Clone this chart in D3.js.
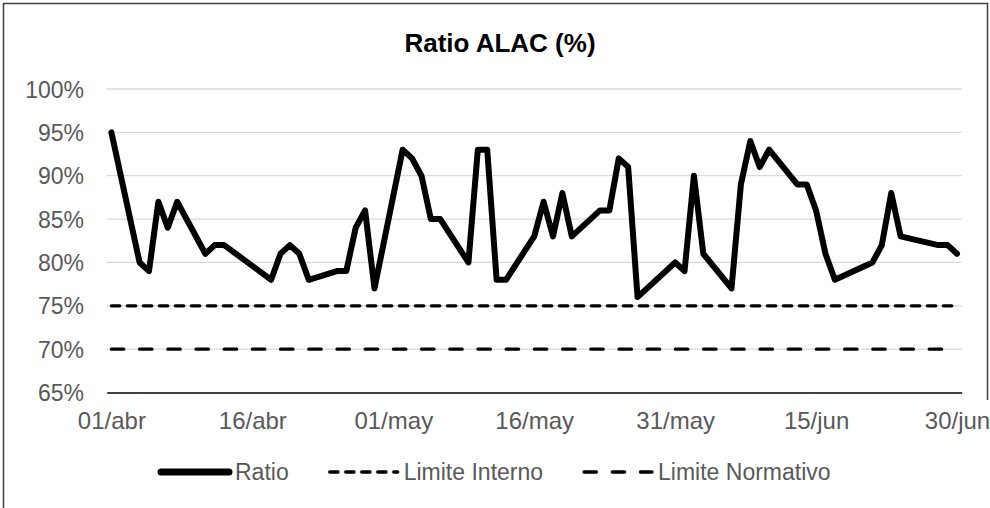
<!DOCTYPE html>
<html>
<head>
<meta charset="utf-8">
<script src="https://cdn.jsdelivr.net/npm/d3@7"></script>
<style>
  body { margin: 0; background: #fff; }
  text { font-family: "Liberation Sans", Arial, sans-serif; }
</style>
</head>
<body>
<script>
// business days Apr-Jun 2022
var dates = [
  "2022-04-01","2022-04-04","2022-04-05","2022-04-06","2022-04-07","2022-04-08",
  "2022-04-11","2022-04-12","2022-04-13","2022-04-18","2022-04-19","2022-04-20",
  "2022-04-21","2022-04-22","2022-04-25","2022-04-26","2022-04-27","2022-04-28",
  "2022-04-29",
  "2022-05-02","2022-05-03","2022-05-04","2022-05-05","2022-05-06","2022-05-09",
  "2022-05-10","2022-05-11","2022-05-12","2022-05-13","2022-05-16","2022-05-17",
  "2022-05-18","2022-05-19","2022-05-20","2022-05-23","2022-05-24","2022-05-25",
  "2022-05-26","2022-05-27","2022-05-31",
  "2022-06-01","2022-06-02","2022-06-03","2022-06-06","2022-06-07","2022-06-08",
  "2022-06-09","2022-06-10","2022-06-13","2022-06-14","2022-06-15","2022-06-16",
  "2022-06-17","2022-06-21","2022-06-22","2022-06-23","2022-06-24","2022-06-28",
  "2022-06-29","2022-06-30"
];
var ratio = [
  95, 80, 79, 87, 84, 87, 81, 82, 82, 78, 81, 82, 81, 78, 79, 79, 84, 86, 77,
  93, 92, 90, 85, 85, 80, 93, 93, 78, 78, 83, 87, 83, 88, 83, 86, 86, 92, 91, 76, 80,
  79, 90, 81, 77, 89, 94, 91, 93, 89, 89, 86, 81, 78, 80, 82, 88, 83, 82, 82, 81
];
var limiteInterno = 75;
var limiteNormativo = 70;
var xTicks = ["2022-04-01","2022-04-16","2022-05-01","2022-05-16","2022-05-31","2022-06-15","2022-06-30"];
var yTicks = [65, 70, 75, 80, 85, 90, 95, 100];
var seriesNames = ["Ratio", "Limite Interno", "Limite Normativo"];

var W = 990, H = 508;
var parse = d3.utcParse("%Y-%m-%d");
var meses = ["ene","feb","mar","abr","may","jun","jul","ago","sep","oct","nov","dic"];
var fmtDate = function(d) { return d3.utcFormat("%d")(d) + "/" + meses[d.getUTCMonth()]; };

var pts = dates.map(function(d, i) { return {date: parse(d), v: ratio[i]}; });
var first = pts[0].date, last = pts[pts.length - 1].date;
var half = 12 * 3600 * 1000;

var x = d3.scaleUtc()
  .domain([new Date(+first - half), new Date(+last + half)])
  .range([106.7, 961.7]);
var y = d3.scaleLinear().domain([65, 100]).range([392.5, 89]);

var svg = d3.select("body").append("svg")
  .attr("width", W).attr("height", H);

svg.append("rect").attr("width", W).attr("height", H).attr("fill", "#fff");

// chart border (right side only visible at the top in the original)
svg.append("path")
  .attr("d", "M3.5," + H + "V3.5H987.5V400")
  .attr("fill", "none").attr("stroke", "#404040").attr("stroke-width", 1.5);

// title
svg.append("text")
  .attr("x", 500).attr("y", 52)
  .attr("text-anchor", "middle")
  .style("font-size", "26px").style("font-weight", "bold").style("fill", "#000")
  .text("Ratio ALAC (%)");

// gridlines
svg.append("g").selectAll("line")
  .data(yTicks.filter(function(t) { return t > 65; }))
  .enter().append("line")
    .attr("x1", 106.7).attr("x2", 961.7)
    .attr("y1", function(d) { return y(d); }).attr("y2", function(d) { return y(d); })
    .attr("stroke", "#d9d9d9").attr("stroke-width", 1.3);

// y axis labels
var yAxis = svg.append("g")
  .attr("transform", "translate(92,0)")
  .call(d3.axisLeft(y).tickValues(yTicks).tickSize(0).tickPadding(0)
    .tickFormat(function(d) { return d + "%"; }));
yAxis.select(".domain").remove();
yAxis.selectAll("text")
  .attr("x", -8).attr("dy", "0.35em")
  .style("font-size", "23px").style("fill", "#595959")
  .style("font-family", "'Liberation Sans', Arial, sans-serif");

// x axis
var xAxis = svg.append("g")
  .attr("transform", "translate(0," + y(65) + ")")
  .call(d3.axisBottom(x).tickValues(xTicks.map(parse)).tickSize(0).tickSizeOuter(0)
    .tickFormat(fmtDate));
xAxis.select(".domain").attr("stroke", "#000").attr("stroke-width", 1.5);
xAxis.selectAll("text")
  .attr("y", 36).attr("dy", 0)
  .style("font-size", "24px").style("fill", "#595959")
  .style("font-family", "'Liberation Sans', Arial, sans-serif");

// line styles per series
var styles = [
  {w: 6, dash: null, cap: "round"},
  {w: 3.3, dash: "8.4 7.6", cap: "round"},
  {w: 3.3, dash: "12.4 15.8", cap: "round"}
];

// limit lines
[limiteInterno, limiteNormativo].forEach(function(lv, i) {
  svg.append("line")
    .attr("x1", x(first)).attr("x2", x(last))
    .attr("y1", y(lv)).attr("y2", y(lv))
    .attr("stroke", "#000").attr("stroke-width", styles[i + 1].w)
    .attr("stroke-dasharray", styles[i + 1].dash)
    .attr("stroke-linecap", styles[i + 1].cap);
});

// ratio line
var line = d3.line()
  .x(function(d) { return x(d.date); })
  .y(function(d) { return y(d.v); });
svg.append("path")
  .datum(pts)
  .attr("d", line)
  .attr("fill", "none").attr("stroke", "#000")
  .attr("stroke-width", 6).attr("stroke-linejoin", "round").attr("stroke-linecap", "round");

// legend: entries laid out one after another
var legY = 472, gap = 41;
var leg = svg.append("g");
var items = leg.selectAll("g")
  .data(seriesNames)
  .enter().append("g");
items.append("line")
  .attr("x1", 2).attr("x2", 70)
  .attr("stroke", "#000")
  .attr("stroke-width", function(d, i) { return i == 0 ? 7 : styles[i].w; })
  .attr("stroke-dasharray", function(d, i) { return styles[i].dash; })
  .attr("stroke-linecap", "round");
items.append("text")
  .attr("x", 76).attr("y", 8)
  .style("font-size", "23px").style("fill", "#595959")
  .text(function(d) { return d; });
var cx = 0;
items.each(function() {
  d3.select(this).attr("transform", "translate(" + cx + ",0)");
  cx += this.getBBox().width + gap;
});
leg.attr("transform", "translate(159," + legY + ")");
</script>
</body>
</html>
